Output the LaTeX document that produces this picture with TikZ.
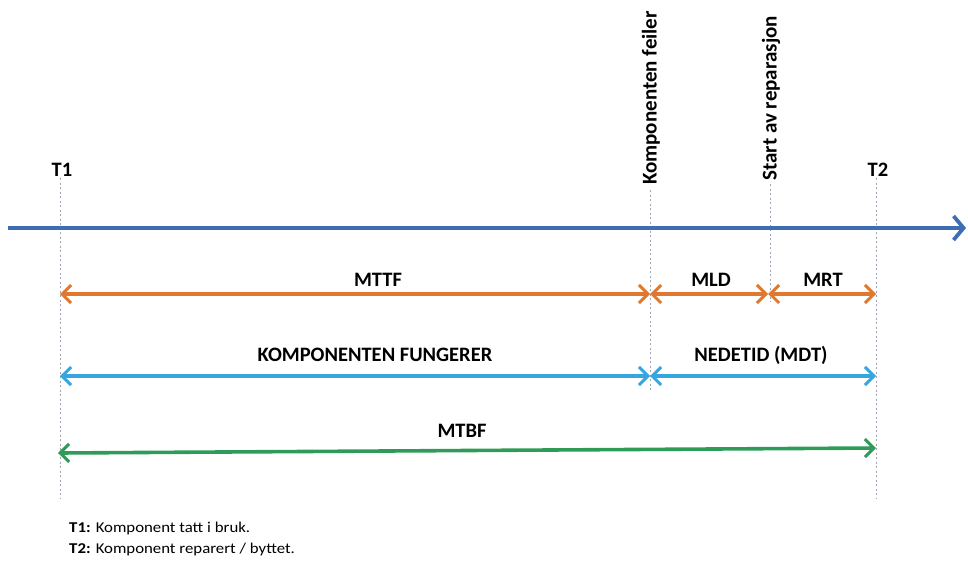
\documentclass[tikz,border=0pt]{standalone}
\usepackage{fontspec}
\setmainfont{Carlito}
\usetikzlibrary{arrows.meta}

\definecolor{axisblue}{HTML}{3E6DB4}
\definecolor{mtorange}{HTML}{E0782F}
\definecolor{mtcyan}{HTML}{35A7DE}
\definecolor{mtgreen}{HTML}{2E9C58}
\definecolor{guidegray}{HTML}{9EA6B6}

\tikzset{
  guide/.style={guidegray, line width=0.9pt, dash pattern=on 2pt off 2.5pt},
  barb/.tip={Straight Barb[length=9pt,width=18pt,line width=3pt]},
  span/.style={line width=3.6pt, barb-barb},
  lbl/.style={font=\bfseries\fontsize{20.5}{24}\selectfont, inner sep=1pt},
  vlbl/.style={font=\bfseries\fontsize{21}{24}\selectfont, inner sep=1pt, rotate=90, anchor=west},
  note/.style={font=\fontsize{15}{18}\selectfont, anchor=west, inner sep=0pt, xscale=1.12}
}

\begin{document}
\begin{tikzpicture}[x=1pt, y=-1pt]
  \useasboundingbox (0,0) rectangle (968,563);

  % event times along the time line
  \coordinate (t1top) at (60,178);   \coordinate (t1bot) at (60,498);
  \coordinate (fltop) at (650,190);  \coordinate (flbot) at (650,392);
  \coordinate (srtop) at (770,184);  \coordinate (srbot) at (770,302);
  \coordinate (t2top) at (876,178);  \coordinate (t2bot) at (876,498);

  % vertical guide lines
  \draw[guide] (t1top) -- (t1bot);
  \draw[guide] (fltop) -- (flbot);
  \draw[guide] (srtop) -- (srbot);
  \draw[guide] (t2top) -- (t2bot);

  % marker labels
  \node[lbl, anchor=south] (t1lbl) at (62,178) {T1};
  \node[lbl, anchor=south] (t2lbl) at (878,178) {T2};
  \node[vlbl] (fllbl) at (651,186) {Komponenten feiler};
  \node[vlbl] (srlbl) at (771,182) {Start av reparasjon};

  % time axis
  \coordinate (axstart) at (8,228);
  \coordinate (axend) at (966,228);
  \draw[axisblue, line width=4.2pt, -{Straight Barb[length=10pt,width=24pt,line width=3.8pt]}] (axstart) -- (axend);

  % row 1: MTTF, MLD, MRT
  \coordinate (r1a) at (60,294);  \coordinate (r1b) at (650,294);
  \coordinate (r1c) at (768,294); \coordinate (r1d) at (876,294);
  \draw[span, mtorange] (r1a) -- (r1b);
  \draw[span, mtorange] (r1b) -- (r1c);
  \draw[span, mtorange] (r1c) -- (r1d);
  \node[lbl] (mttf) at (378,280) {MTTF};
  \node[lbl] (mld) at (711,280) {MLD};
  \node[lbl] (mrt) at (823,280) {MRT};

  % row 2: up time and down time
  \coordinate (r2a) at (60,376);  \coordinate (r2b) at (650,376);
  \coordinate (r2c) at (876,376);
  \draw[span, mtcyan] (r2a) -- (r2b);
  \draw[span, mtcyan] (r2b) -- (r2c);
  \node[lbl] (fung) at (375,355) {KOMPONENTEN FUNGERER};
  \node[lbl] (mdt) at (761,355) {NEDETID (MDT)};

  % row 3: MTBF
  \coordinate (r3a) at (58,453);  \coordinate (r3b) at (876,448);
  \draw[span, mtgreen] (r3a) -- (r3b);
  \node[lbl] (mtbf) at (462,431) {MTBF};

  % legend
  \node[note] (n1) at (69,528) {\textbf{T1:} Komponent tatt i bruk.};
  \node[note] (n2) at (69,549) {\textbf{T2:} Komponent reparert / byttet.};
\end{tikzpicture}
\end{document}
